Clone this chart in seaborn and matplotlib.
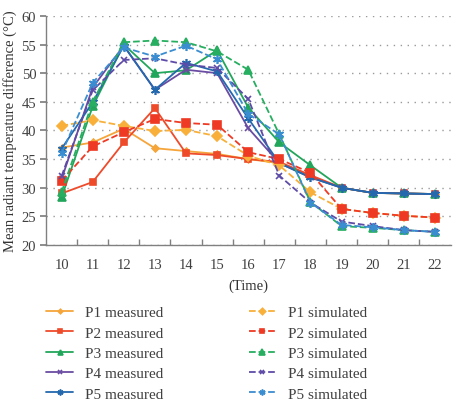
import matplotlib
matplotlib.use("Agg")
import matplotlib.pyplot as plt
import seaborn as sns
import numpy as np
from matplotlib.ticker import FixedLocator

sns.set_theme(style="white")
plt.rcParams['font.family'] = ['Liberation Serif', 'DejaVu Serif']

hours = [10, 11, 12, 13, 14, 15, 16, 17, 18, 19, 20, 21, 22]
P1_meas = [37.0, 37.9, 40.3, 36.9, 36.4, 35.9, 35.0, 34.3, 32.0, 30.0, 29.1, 29.0, 28.9]
P1_sim = [40.8, 41.8, 40.8, 39.9, 40.1, 39.0, 35.6, 33.9, 29.2, 26.3, 25.6, 25.1, 24.8]
P2_meas = [29.0, 31.0, 37.9, 43.9, 36.0, 35.7, 35.0, 34.5, 32.2, 30.0, 29.1, 29.0, 28.9]
P2_sim = [31.2, 37.2, 39.7, 42.0, 41.3, 41.0, 36.2, 35.0, 32.6, 26.3, 25.6, 25.1, 24.8]
P3_meas = [28.3, 44.2, 55.0, 50.0, 50.5, 54.0, 44.0, 37.9, 33.9, 30.0, 29.1, 29.0, 28.9]
P3_sim = [29.2, 45.0, 55.4, 55.7, 55.4, 53.8, 50.6, 39.3, 27.5, 23.3, 23.0, 22.6, 22.3]
P4_meas = [31.5, 47.5, 54.8, 47.1, 50.6, 50.0, 40.4, 34.3, 31.8, 30.0, 29.1, 29.0, 28.9]
P4_sim = [32.0, 47.0, 52.3, 52.6, 51.5, 50.9, 45.5, 32.1, 27.4, 24.1, 23.3, 22.6, 22.3]
P5_meas = [36.8, 44.9, 54.8, 47.1, 51.8, 50.3, 42.1, 34.3, 31.8, 30.0, 29.1, 29.0, 28.9]
P5_sim = [36.0, 48.3, 54.5, 52.9, 54.8, 52.4, 42.9, 39.3, 27.4, 23.5, 23.1, 22.6, 22.3]

series = [
    ("P1 measured", P1_meas, "#F5A53A", "D", "-", 3.5),
    ("P2 measured", P2_meas, "#EE4B2B", "s", "-", 5),
    ("P3 measured", P3_meas, "#22A65B", "^", "-", 5.5),
    ("P4 measured", P4_meas, "#6A4CA3", "x", "-", 5),
    ("P5 measured", P5_meas, "#2468AE", (6, 2, 0), "-", 6.5),
    ("P1 simulated", P1_sim, "#F8B03A", "D", "--", 5),
    ("P2 simulated", P2_sim, "#EE3A24", "s", "--", 5.5),
    ("P3 simulated", P3_sim, "#27AE60", "^", "--", 6),
    ("P4 simulated", P4_sim, "#5E4BA8", "x", "--", 5),
    ("P5 simulated", P5_sim, "#3A8DD0", (6, 2, 0), "--", 6.5),
]

fig = plt.figure(figsize=(4.53, 4.02), dpi=100)
ax = fig.add_axes([0.1015, 0.388, 0.893, 0.570])

pos = np.arange(len(hours))
for label, vals, color, mk, ls, ms in series:
    kw = dict(linestyle=ls)
    if ls == "--":
        kw["dashes"] = (4.5, 2.5)
    sns.lineplot(x=pos, y=vals, ax=ax, color=color, marker=mk, markersize=ms,
                 markeredgecolor=color, markerfacecolor=color, markeredgewidth=1.2,
                 linewidth=1.3, label=label, legend=False, **kw)

ax.set_xlim(-0.5, len(hours) - 0.5)
ax.set_ylim(20, 60)
ax.set_yticks(range(20, 61, 5))
ax.set_xticks(pos)
ax.set_xticklabels([str(h) for h in hours])
ax.xaxis.set_minor_locator(FixedLocator(pos[:-1] + 0.5))
ax.tick_params(axis='x', which='major', length=0, labelsize=10.5, colors='#404040', pad=9)
ax.tick_params(axis='x', which='minor', length=4, color='#808080', direction='in', bottom=True)
ax.tick_params(axis='y', which='major', length=4, color='#808080', direction='out', left=True,
               labelsize=10.5, colors='#404040', pad=3)
ax.yaxis.grid(True, linestyle=(0, (1, 4)), color='#9a9a9a', linewidth=1.0)
ax.xaxis.grid(False)
for s in ['top', 'right']:
    ax.spines[s].set_visible(False)
for s in ['left', 'bottom']:
    ax.spines[s].set_color('#808080')
    ax.spines[s].set_linewidth(1.0)

ax.set_ylabel("Mean radiant temperature difference (\u00b0C)", fontsize=10.5, color='#333333', labelpad=3)
ax.set_xlabel("(Time)", fontsize=10.5, color='#333333', labelpad=6)

handles, labels = ax.get_legend_handles_labels()
leg = fig.legend(handles, labels, ncol=2, loc='upper left', bbox_to_anchor=(0.088, 0.253),
                 frameon=False, fontsize=11, labelspacing=0.44, handlelength=1.8,
                 handletextpad=0.75, columnspacing=5.6, borderaxespad=0, markerscale=0.65)
for t in leg.get_texts():
    t.set_color('#404040')

fig.savefig("out.png", dpi=100)
